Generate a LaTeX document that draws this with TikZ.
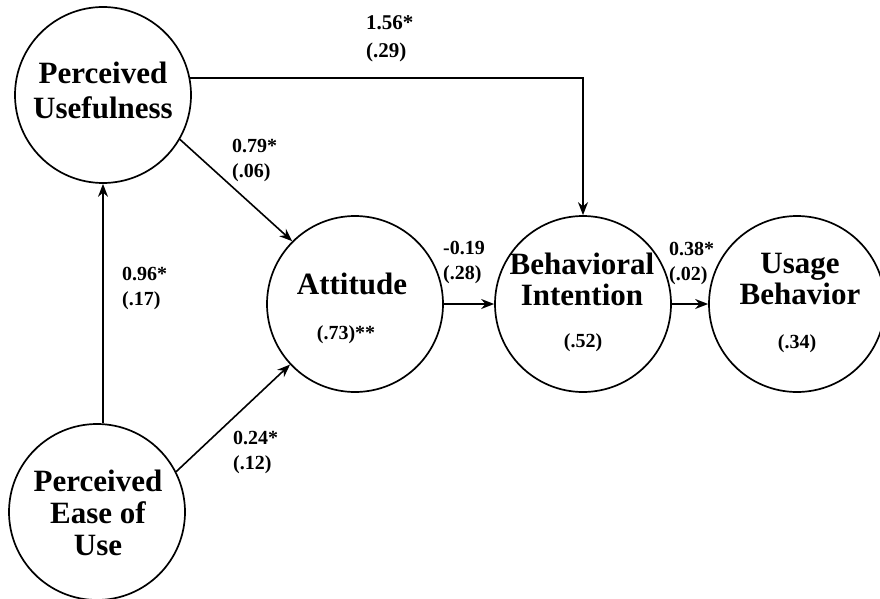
\documentclass[tikz,border=0pt]{standalone}
\usepackage{fontspec}
\setmainfont{Liberation Serif}
\usetikzlibrary{arrows.meta,calc}
\begin{document}
\begin{tikzpicture}[x=1pt,y=-1pt,
  circ/.style={circle,draw,line width=1.7pt,minimum size=176pt,inner sep=0pt},
  ttl/.style={font=\fontsize{31}{35}\selectfont\bfseries,align=center,inner sep=0pt},
  val/.style={font=\fontsize{20}{22}\selectfont\bfseries,inner sep=0pt},
  coef/.style={font=\fontsize{20}{25}\selectfont\bfseries,align=left,inner sep=0pt,anchor=west},
  arr/.style={line width=1.6pt,-{Stealth[length=13pt,width=10pt]}}]
\useasboundingbox (0,0) rectangle (880,599);
% circles
\node[circ] (PU) at (103,95) {};
\node[circ] (PEOU) at (97,512) {};
\node[circ] (Att) at (355,304) {};
\node[circ] (BI) at (583,304) {};
\node[circ] (UB) at (797,304) {};
% titles
\node[ttl] (tPU) at (103,90) {Perceived\\Usefulness};
\node[ttl,font=\fontsize{31}{32}\selectfont\bfseries] (tPEOU) at (98,513) {Perceived\\Ease of\\Use};
\node[ttl] (tAtt) at (352,284) {Attitude};
\node[ttl,font=\fontsize{31}{31}\selectfont\bfseries] (tBI) at (582,279) {Behavioral\\Intention};
\node[ttl,font=\fontsize{31}{31}\selectfont\bfseries] (tUB) at (800,279) {Usage\\Behavior};
% values
\node[val] (vAtt) at (346,335) {(.73)**};
\node[val] (vBI) at (583,343) {(.52)};
\node[val] (vUB) at (797,344) {(.34)};
% connectors
\draw[arr] (PU.-30) -- (Att.135);
\draw[arr] (PEOU.27) -- (Att.223);
\draw[arr] (PU.south |- PEOU.north) -- (PU.south);
\draw[arr] (PU.11) -| (BI.north);
\draw[arr] (Att.east) -- (BI.west);
\draw[arr] (BI.east) -- (UB.west);
% coefficients
\node[coef,font=\fontsize{21}{28}\selectfont\bfseries] (c1) at (366,39) {1.56*\\(.29)};
\node[coef] (c2) at (232,160) {0.79*\\(.06)};
\node[coef] (c3) at (122,288) {0.96*\\(.17)};
\node[coef] (c4) at (443,262) {-0.19\\(.28)};
\node[coef] (c5) at (669,263) {0.38*\\(.02)};
\node[coef] (c6) at (233,452) {0.24*\\(.12)};
\end{tikzpicture}
\end{document}
